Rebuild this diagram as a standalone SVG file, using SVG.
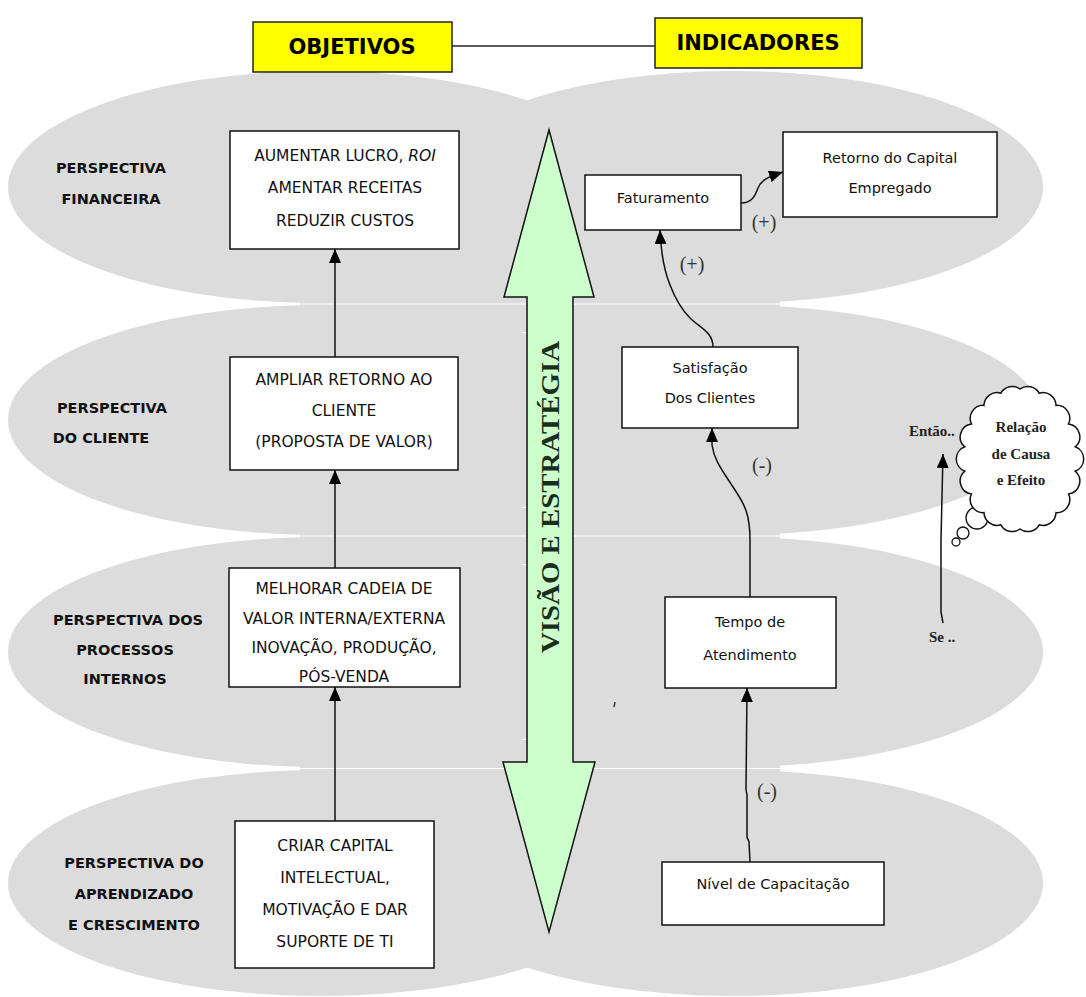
<svg xmlns="http://www.w3.org/2000/svg" width="1086" height="997" viewBox="0 0 1086 997">
  <style>
    .band { fill: #dcdcdc; }
    .seam { stroke: #ffffff; stroke-width: 1.2; fill: none; }
    .title-box { fill: #ffff00; stroke: #222; stroke-width: 1.5; }
    .title { font-family: "DejaVu Sans", sans-serif; font-weight: bold; fill: #000; text-anchor: middle; }
    .box { fill: #fff; stroke: #111; stroke-width: 1.5; }
    .obj { font-family: "DejaVu Sans", sans-serif; font-size: 15.5px; fill: #111; text-anchor: middle; }
    .ind { font-family: "DejaVu Sans", sans-serif; font-size: 14.5px; fill: #111; text-anchor: middle; }
    .persp { font-family: "DejaVu Sans", sans-serif; font-size: 14.5px; font-weight: bold; fill: #111; text-anchor: middle; }
    .sign { font-family: "Liberation Serif", serif; font-size: 20px; fill: #333; text-anchor: middle; }
    .note { font-family: "Liberation Serif", serif; font-size: 15px; font-weight: bold; fill: #222; }
    .link { fill: none; stroke: #111; stroke-width: 1.5; marker-end: url(#head); }
  </style>
  <defs>
    <marker id="head" markerUnits="userSpaceOnUse" viewBox="0 0 14 12" markerWidth="14" markerHeight="12" refX="14" refY="6" orient="auto">
      <path d="M0,0 L14,6 L0,12 z" fill="#000"/>
    </marker>
  </defs>

  <!-- perspective bands: two overlapping ellipses per row, joined in the middle -->
  <g id="bands">
    <ellipse class="band" cx="320" cy="187" rx="312" ry="116"/>
    <ellipse class="band" cx="733" cy="187" rx="310" ry="116"/>
    <ellipse class="band" cx="320" cy="420" rx="312" ry="115"/>
    <ellipse class="band" cx="733" cy="420" rx="310" ry="115"/>
    <ellipse class="band" cx="320" cy="652" rx="312" ry="115"/>
    <ellipse class="band" cx="733" cy="652" rx="310" ry="115"/>
    <ellipse class="band" cx="320" cy="883" rx="312" ry="113"/>
    <ellipse class="band" cx="733" cy="883" rx="310" ry="113"/>
    <rect class="band" x="300" y="276" width="480" height="56"/>
    <rect class="band" x="300" y="508" width="480" height="56"/>
    <rect class="band" x="300" y="740" width="480" height="56"/>
    <path class="seam" d="M290,304 L790,304 M290,536 L790,536 M290,768.5 L790,768.5"/>
  </g>

  <!-- column headers -->
  <g id="header-objetivos">
    <rect class="title-box" x="253" y="22" width="199" height="50"/>
    <text class="title" x="352" y="54" font-size="21">OBJETIVOS</text>
  </g>
  <g id="header-indicadores">
    <rect class="title-box" x="655" y="18" width="207" height="50"/>
    <text class="title" x="758" y="50" font-size="21">INDICADORES</text>
  </g>

  <!-- perspective labels -->
  <g id="label-financeira">
    <text class="persp" x="111" y="173">PERSPECTIVA</text>
    <text class="persp" x="111" y="204">FINANCEIRA</text>
  </g>
  <g id="label-cliente">
    <text class="persp" x="112" y="413">PERSPECTIVA</text>
    <text class="persp" x="101" y="443">DO CLIENTE</text>
  </g>
  <g id="label-processos">
    <text class="persp" x="128" y="625">PERSPECTIVA DOS</text>
    <text class="persp" x="125" y="655">PROCESSOS</text>
    <text class="persp" x="125" y="684">INTERNOS</text>
  </g>
  <g id="label-aprendizado">
    <text class="persp" x="134" y="868">PERSPECTIVA DO</text>
    <text class="persp" x="134" y="899">APRENDIZADO</text>
    <text class="persp" x="134" y="930">E CRESCIMENTO</text>
  </g>

  <!-- strategy double arrow -->
  <g id="visao-estrategia">
    <polygon points="549,130 594,297 573,297 573,762 595,762 549,932 503,762 527,762 527,297 504,297" fill="#ccffcc" stroke="#111" stroke-width="1.5"/>
    <text x="0" y="0" transform="translate(559,497) rotate(-90)" font-family="Liberation Serif, serif" font-weight="bold" font-size="26" fill="#1a2e1a" text-anchor="middle" textLength="312" lengthAdjust="spacingAndGlyphs">VISÃO E ESTRATÉGIA</text>
  </g>

  <!-- objectives -->
  <g id="obj-financeira">
    <rect class="box" x="230" y="131" width="229" height="118"/>
    <text class="obj" x="345" y="161">AUMENTAR LUCRO, <tspan font-style="italic">ROI</tspan></text>
    <text class="obj" x="345" y="193">AMENTAR RECEITAS</text>
    <text class="obj" x="345" y="226">REDUZIR CUSTOS</text>
  </g>
  <g id="obj-cliente">
    <rect class="box" x="230" y="357" width="228" height="113"/>
    <text class="obj" x="344" y="385">AMPLIAR RETORNO AO</text>
    <text class="obj" x="344" y="416">CLIENTE</text>
    <text class="obj" x="344" y="447">(PROPOSTA DE VALOR)</text>
  </g>
  <g id="obj-processos">
    <rect class="box" x="229" y="568" width="231" height="119"/>
    <text class="obj" x="344" y="594">MELHORAR CADEIA DE</text>
    <text class="obj" x="344" y="624">VALOR INTERNA/EXTERNA</text>
    <text class="obj" x="344" y="653">INOVAÇÃO,  PRODUÇÃO,</text>
    <text class="obj" x="344" y="682">PÓS-VENDA</text>
  </g>
  <g id="obj-aprendizado">
    <rect class="box" x="235" y="821" width="199" height="147"/>
    <text class="obj" x="335" y="851">CRIAR CAPITAL</text>
    <text class="obj" x="335" y="883">INTELECTUAL,</text>
    <text class="obj" x="335" y="915">MOTIVAÇÃO E DAR</text>
    <text class="obj" x="335" y="947">SUPORTE DE TI</text>
  </g>

  <!-- indicators -->
  <g id="ind-faturamento">
    <rect class="box" x="585" y="175" width="156" height="55"/>
    <text class="ind" x="663" y="203">Faturamento</text>
  </g>
  <g id="ind-retorno">
    <rect class="box" x="783" y="132" width="214" height="85"/>
    <text class="ind" x="890" y="163">Retorno do Capital</text>
    <text class="ind" x="890" y="193">Empregado</text>
  </g>
  <g id="ind-satisfacao">
    <rect class="box" x="622" y="347" width="176" height="81"/>
    <text class="ind" x="710" y="373">Satisfação</text>
    <text class="ind" x="710" y="403">Dos Clientes</text>
  </g>
  <g id="ind-tempo">
    <rect class="box" x="665" y="597" width="171" height="91"/>
    <text class="ind" x="750" y="627">Tempo de</text>
    <text class="ind" x="750" y="660">Atendimento</text>
  </g>
  <g id="ind-capacitacao">
    <rect class="box" x="662" y="862" width="222" height="63"/>
    <text class="ind" x="773" y="889">Nível de Capacitação</text>
  </g>

  <!-- cause and effect thought cloud -->
  <g id="causa-efeito">
    <circle cx="977" cy="518" r="11" fill="#fff" stroke="#111" stroke-width="1.3"/>
    <circle cx="963" cy="533" r="6" fill="#fff" stroke="#111" stroke-width="1.3"/>
    <circle cx="956" cy="542" r="4" fill="#fff" stroke="#111" stroke-width="1.3"/>
    <path d="M1020,389 A13,13 0 0 1 1039.2,393.2 A13,13 0 0 1 1056,405.4 A13,13 0 0 1 1068.5,424 A13,13 0 0 1 1075.2,446.8 A13,13 0 0 1 1075.2,471.2 A13,13 0 0 1 1068.5,494 A13,13 0 0 1 1056,512.6 A13,13 0 0 1 1039.2,524.8 A13,13 0 0 1 1020,529 A13,13 0 0 1 1000.8,524.8 A13,13 0 0 1 984,512.6 A13,13 0 0 1 971.5,494 A13,13 0 0 1 964.8,471.2 A13,13 0 0 1 964.8,446.8 A13,13 0 0 1 971.5,424 A13,13 0 0 1 984,405.4 A13,13 0 0 1 1000.8,393.2 A13,13 0 0 1 1020,389 z" fill="#fff" stroke="#111" stroke-width="1.5"/>
    <text class="note" x="1021" y="432" text-anchor="middle">Relação</text>
    <text class="note" x="1021" y="459" text-anchor="middle">de Causa</text>
    <text class="note" x="1021" y="485" text-anchor="middle">e Efeito</text>
    <text class="note" x="909" y="436">Então..</text>
    <text class="note" x="929" y="642">Se ..</text>
  </g>

  <!-- connectors -->
  <g id="connectors">
    <path class="link" d="M335,357 L335,249"/>
    <path class="link" d="M335,568 L335,470"/>
    <path class="link" d="M335,821 L335,687"/>
    <path class="link" d="M741,203 C752,203 755,196 758,188 C761,180 768,177 783,172"/>
    <path class="link" d="M713,347 C713,332 700,328 690,318 C680,308 675,298 670,285 C664,270 661,255 660,230"/>
    <path class="link" d="M750,597 L750,540 C750,515 745,505 735,490 C722,470 714,460 712,445 L712,428"/>
    <path class="link" d="M750,862 L749,842 L747,837 L747,795 L746,790 L747,688"/>
    <path class="link" d="M943,623 L941,612 L941,540 L943,454"/>
    <line x1="452" y1="46" x2="655" y2="46" stroke="#222" stroke-width="1.5"/>
    <text class="sign" x="764" y="229">(+)</text>
    <text class="sign" x="692" y="271">(+)</text>
    <text class="sign" x="762" y="472">(-)</text>
    <text class="sign" x="767" y="798">(-)</text>
    <path d="M615,702 L614,707" stroke="#333" stroke-width="1.5"/>
  </g>
</svg>
